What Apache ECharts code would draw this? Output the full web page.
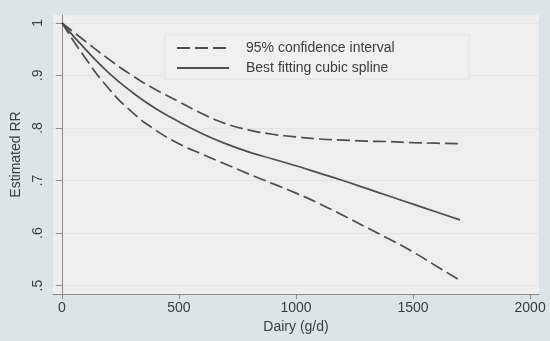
<!DOCTYPE html>
<html>
<head>
<meta charset="utf-8">
<script src="https://cdn.jsdelivr.net/npm/echarts@6/dist/echarts.min.js"></script>
<style>
html,body{margin:0;padding:0;background:#dde4e6;}
#c{width:550px;height:341px;}
</style>
</head>
<body>
<div id="c"></div>
<script>
const dairy = [0,100,200,300,400,500,600,700,800,900,1000,1100,1200,1300,1400,1500,1600,1700];
const upperCI = [1,0.965,0.931,0.900,0.873,0.850,0.827,0.808,0.796,0.788,0.783,0.779,0.777,0.775,0.774,0.772,0.771,0.770];
const spline = [1,0.950,0.905,0.868,0.837,0.812,0.789,0.770,0.754,0.741,0.728,0.714,0.700,0.685,0.670,0.655,0.640,0.625];
const lowerCI = [1,0.933,0.875,0.830,0.796,0.770,0.750,0.731,0.712,0.694,0.676,0.656,0.634,0.611,0.588,0.564,0.537,0.510];
const xTicks = [0,500,1000,1500,2000];
const yTicks = [0.5,0.6,0.7,0.8,0.9,1];
const yTickLabels = ['.5','.6','.7','.8','.9','1'];

const pair = (ys) => dairy.map((x,i)=>[x, ys[i]]);
const lineColor = '#4d4d4d';
const font = 'Liberation Sans, Arial, sans-serif';
const txt = '#3c3c3c';

const chart = echarts.init(document.getElementById('c'));
chart.setOption({
  animation:false,
  backgroundColor:'#dde4e6',
  textStyle:{fontFamily:font},
  grid:{left:53,right:11,top:15,bottom:47,show:true,backgroundColor:'#eeeeee',borderWidth:0},
  legend:{
    orient:'vertical', left:165, top:35,
    data:['95% confidence interval','Best fitting cubic spline'],
    itemWidth:52, itemHeight:14, itemGap:6,
    padding:[6,74,4,11],
    itemStyle:{opacity:0},
    backgroundColor:'#f0f0f0', borderColor:'#e2e2e2', borderWidth:1,
    textStyle:{fontFamily:font,fontSize:14,color:txt,padding:[0,0,0,12]}
  },
  xAxis:{
    type:'value', min:-38, max:2038,
    name:'Dairy (g/d)', nameLocation:'middle', nameGap:24,
    nameTextStyle:{fontFamily:font,fontSize:14,color:txt},
    axisLine:{show:true,lineStyle:{color:'#8a8a8a',width:1}},
    axisTick:{show:true,length:5,lineStyle:{color:'#8a8a8a'},customValues:xTicks},
    axisLabel:{customValues:xTicks,fontSize:14,color:txt,margin:7,fontFamily:font,
      formatter:(v)=>String(Math.round(v))},
    splitLine:{show:false}
  },
  yAxis:{
    type:'value', min:0.484, max:1.015,
    name:'Estimated RR', nameLocation:'middle', nameGap:25, nameRotate:90,
    nameTextStyle:{fontFamily:font,fontSize:14,color:txt},
    axisLine:{show:true,lineStyle:{color:'#8a8a8a',width:1}},
    axisTick:{show:true,length:6,lineStyle:{color:'#8a8a8a'},customValues:yTicks},
    axisLabel:{customValues:yTicks,rotate:90,fontSize:14,color:txt,margin:8,fontFamily:font,
      formatter:(v)=>{const i=yTicks.findIndex(t=>Math.abs(t-v)<1e-6);return i>=0?yTickLabels[i]:'';}},
    splitLine:{show:true,lineStyle:{color:'#e3e3e3',width:1}}
  },
  series:[
    {name:'95% confidence interval',type:'line',data:pair(upperCI),smooth:true,symbol:'none',
     lineStyle:{color:lineColor,width:1.7,type:[13,5]},itemStyle:{color:lineColor}},
    {name:'Best fitting cubic spline',type:'line',data:pair(spline),smooth:true,symbol:'none',
     lineStyle:{color:lineColor,width:1.7,type:'solid'},itemStyle:{color:lineColor}},
    {name:'95% confidence interval',type:'line',data:pair(lowerCI),smooth:true,symbol:'none',
     lineStyle:{color:lineColor,width:1.7,type:[13,5]},itemStyle:{color:lineColor}}
  ]
});
</script>
</body>
</html>
